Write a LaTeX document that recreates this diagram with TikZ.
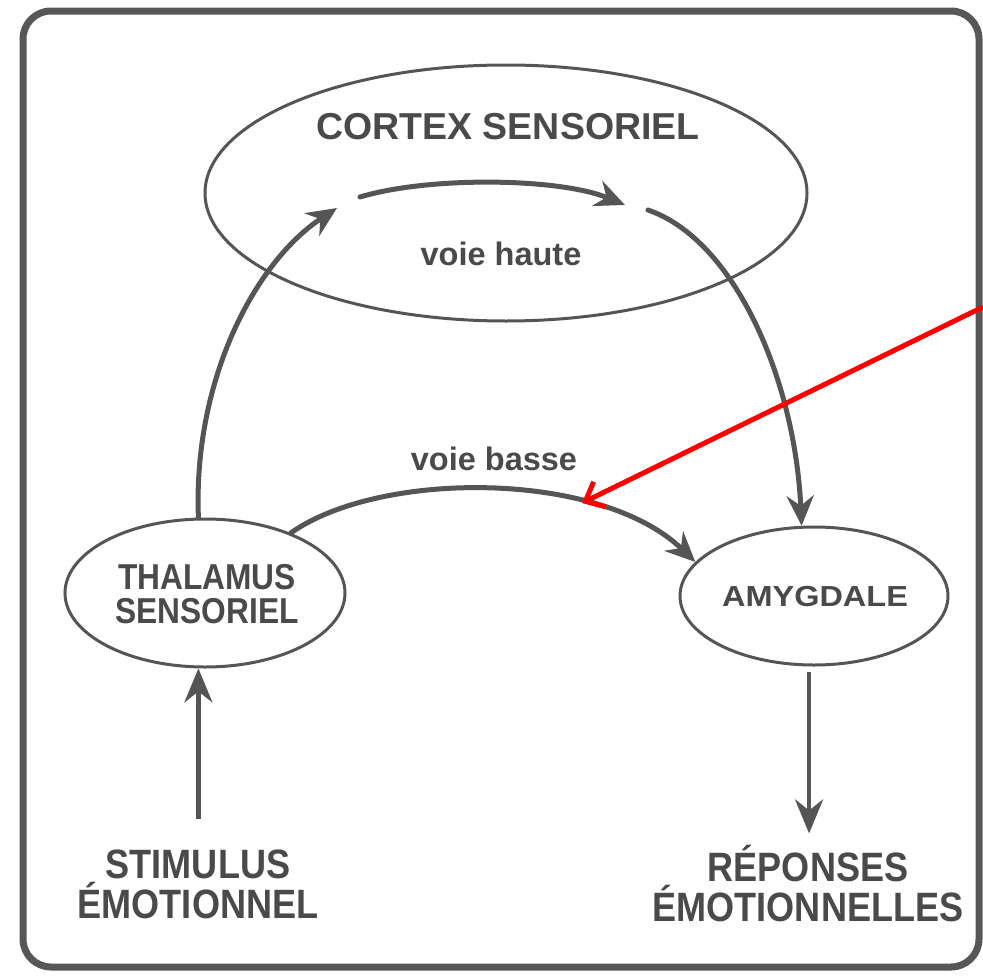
\documentclass[tikz,border=0pt]{standalone}
\usepackage{fontspec}
\setmainfont{Liberation Sans}
\newfontfamily\narrowsans[FakeStretch=0.88]{Liberation Sans}
\newfontfamily\widesans[FakeStretch=1.12]{Liberation Sans}
\usetikzlibrary{shapes.geometric,arrows.meta}
\definecolor{ink}{HTML}{555555}
\definecolor{inktext}{HTML}{4A4A4A}
\definecolor{framecol}{HTML}{575757}
\definecolor{marker}{HTML}{FF0000}

\begin{document}
\begin{tikzpicture}[x=1pt,y=-1pt,
  region/.style={ellipse, draw=ink, line width=3pt, inner sep=0pt},
  lbl/.style={text=inktext, inner sep=0pt, align=center},
  pathway/.style={draw=ink, line width=5pt, line cap=round,
    -{Stealth[length=30pt,width=27pt,inset=10pt]}},
  straightway/.style={draw=ink, line width=4.5pt,
    -{Stealth[length=34pt,width=28pt,inset=11pt]}},
  pointer/.style={draw=marker, line width=5pt,
    -{Straight Barb[length=16pt,width=28pt,line width=5pt]}}]

% page and outer frame
\useasboundingbox (0,0) rectangle (983,977);
\fill[white] (0,0) rectangle (983,977);
\draw[framecol, line width=7pt, rounded corners=28pt] (23,11) rectangle (979,967);

% brain regions
\node[region, minimum width=602pt, minimum height=256pt] (cortex) at (506,193) {};
\node[region, minimum width=280pt, minimum height=148pt] (thal) at (205,593) {};
\node[region, minimum width=268pt, minimum height=138pt] (amyg) at (814,596) {};

% labels
\node[lbl, font=\bfseries\fontsize{37.5}{40}\selectfont] (ctxlabel) at (508,127) {CORTEX SENSORIEL};
\node[lbl, font=\bfseries\fontsize{32.5}{34}\selectfont] (haute) at (501,254) {voie haute};
\node[lbl, font=\bfseries\fontsize{32.5}{34}\selectfont] (basse) at (494,459) {voie basse};
\node[lbl, font=\narrowsans\bfseries\fontsize{36}{34}\selectfont] (thallabel) at (207,594) {THALAMUS\\SENSORIEL};
\node[lbl, font=\widesans\bfseries\fontsize{29}{34}\selectfont] (amyglabel) at (815,597) {AMYGDALE};
\node[lbl, font=\narrowsans\bfseries\fontsize{41}{40}\selectfont] (stim) at (198,884) {STIMULUS\\ÉMOTIONNEL};
\node[lbl, font=\narrowsans\bfseries\fontsize{41}{40}\selectfont] (rep) at (808,884) {RÉPONSES\\ÉMOTIONNELLES};

% points inside the cortex where the high route enters and leaves
\coordinate (hautIn) at (337,208);
\coordinate (hautA) at (360,197);
\coordinate (hautB) at (625,205);
\coordinate (hautOut) at (648,210);

% high route: thalamus -> cortex -> amygdala
\draw[pathway] (thal.95) .. controls (193,380) and (255,262) .. (hautIn);
\draw[pathway] (hautA) .. controls (430,176) and (560,178) .. (hautB);
\draw[pathway] (hautOut) .. controls (735,240) and (795,380) .. (amyg.100);

% low route: thalamus -> amygdala
\draw[pathway] (thal.35) .. controls (380,470) and (600,470) .. (amyg.164);

% input and output
\draw[straightway, shorten <=30pt] (thal.265 |- stim.north) -- (thal.265);
\draw[straightway, shorten <=6pt, shorten >=12pt] (amyg.266) -- (amyg.266 |- rep.north);

% red pointer onto the low route
\coordinate (pointerStart) at (983,307);
\coordinate (pointerTip) at (582,503);
\draw[pointer] (pointerStart) -- (pointerTip);
\end{tikzpicture}
\end{document}
